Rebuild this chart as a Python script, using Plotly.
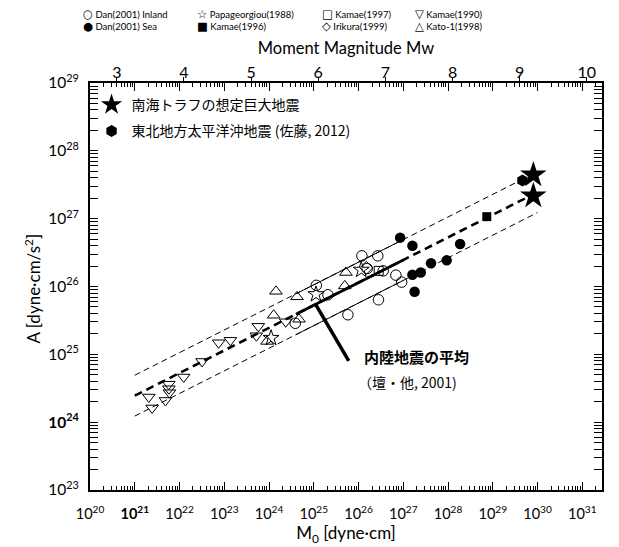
import numpy as np
import plotly.graph_objects as go

# ---------------- data ----------------
inland_M0 = [1.19e26, 2.69e26, 1.14e25, 2.07e25, 1.56e26, 3.56e26, 6.84e26, 9.20e26, 2.79e26, 5.79e25, 3.86e24]
inland_A = [2.83e26, 2.83e26, 1.04e26, 7.55e25, 1.84e26, 1.70e26, 1.47e26, 1.16e26, 6.37e25, 3.83e25, 2.87e25]

sea_M0 = [8.51e26, 1.60e27, 1.86e28, 9.33e27, 4.17e27, 2.45e27, 1.60e27, 1.79e27]
sea_A = [5.25e26, 3.98e26, 4.22e26, 2.43e26, 2.20e26, 1.61e26, 1.49e26, 8.36e25]

kato_M0 = [5.24e25, 4.92e25, 4.22e24, 1.43e24, 1.27e24, 4.68e24, 9.02e23]
kato_A = [1.61e26, 1.02e26, 7.05e25, 8.49e25, 3.77e25, 3.29e25, 1.55e25]

kamae1990_M0 = [5.77e23, 5.21e23, 7.50e22, 1.37e23, 2.37e24, 3.19e22, 1.24e22, 5.74e21, 5.79e21, 5.96e21, 2.06e21, 4.84e21, 2.44e21]
kamae1990_A = [2.59e25, 1.88e25, 1.48e25, 1.61e25, 3.02e25, 7.85e24, 4.63e24, 3.63e24, 3.11e24, 2.72e24, 2.35e24, 2.09e24, 1.62e24]

papa_M0 = [1.15e26, 1.12e25, 1.11e24]
papa_A = [1.76e26, 7.67e25, 1.74e25]

irikura_M0 = [1.49e26]
irikura_A = [1.88e26]

kamae1997_M0 = [2.82e26]
kamae1997_A = [1.70e26]

kamae1996_M0 = [7.35e28]
kamae1996_A = [1.07e27]

nankai_M0 = [8.05e29, 8.05e29]
nankai_A = [4.42e27, 2.17e27]

tohoku_M0 = [4.60e29]
tohoku_A = [3.64e27]

# Dan et al. (2001) relation, read as line end points
mean_line_M0 = [1e21, 1e30]
mean_line_A = [2.46e24, 2.46e27]
upper_line_A = [4.92e24, 4.92e27]
lower_line_A = [1.23e24, 1.23e27]
inland_seg_M0 = [4e24, 1e27]
inland_seg_mean_A = [3.90e25, 2.46e26]
inland_seg_upper_A = [7.80e25, 4.92e26]
inland_seg_lower_A = [1.95e25, 1.23e26]

callout_M0 = 1.1e25
callout_A = 5.47e25

x_tick_exp = list(range(20, 32))
y_tick_exp = list(range(23, 30))
mw_ticks = [3, 4, 5, 6, 7, 8, 9, 10]

x_log_range = [20, 31.44]
y_log_range = [23, 29]

# ---------------- geometry (the page adds an 8px body margin) ----------------
OFF = 8
W, H = 619 - OFF, 547 - OFF
PL, PR, PT, PB = 89.5, 602, 83, 490          # plot box in screenshot pixels
def px(xs):
    return (xs - PL) / (PR - PL)
def py(ys):
    return (PB - ys) / (PB - PT)

# ---------------- figure ----------------
fig = go.Figure()

line_style_thin_dash = dict(color="black", width=1, dash="6px,4px")
line_style_bold_dash = dict(color="black", width=2.6, dash="8px,5px")

fig.add_trace(go.Scatter(x=mean_line_M0, y=upper_line_A, mode="lines", line=line_style_thin_dash,
                         showlegend=False, hoverinfo="skip"))
fig.add_trace(go.Scatter(x=mean_line_M0, y=lower_line_A, mode="lines", line=line_style_thin_dash,
                         showlegend=False, hoverinfo="skip"))
fig.add_trace(go.Scatter(x=mean_line_M0, y=mean_line_A, mode="lines", line=line_style_bold_dash,
                         showlegend=False, hoverinfo="skip"))
fig.add_trace(go.Scatter(x=inland_seg_M0, y=inland_seg_upper_A, mode="lines", line=dict(color="black", width=1),
                         showlegend=False, hoverinfo="skip"))
fig.add_trace(go.Scatter(x=inland_seg_M0, y=inland_seg_lower_A, mode="lines", line=dict(color="black", width=1),
                         showlegend=False, hoverinfo="skip"))
fig.add_trace(go.Scatter(x=inland_seg_M0, y=inland_seg_mean_A, mode="lines", line=dict(color="black", width=2.6),
                         showlegend=False, hoverinfo="skip"))

def pts(x, y, symbol, size, name, lw=1):
    fig.add_trace(go.Scatter(x=x, y=y, mode="markers", name=name, showlegend=False,
                             marker=dict(symbol=symbol, size=size, color="black",
                                         line=dict(color="black", width=lw))))

pts(kamae1990_M0, kamae1990_A, "triangle-down-open", 11, "Kamae(1990)")
pts(kato_M0, kato_A, "triangle-up-open", 11, "Kato-1(1998)")
pts(papa_M0, papa_A, "star-open", 12, "Papageorgiou(1988)")
pts(inland_M0, inland_A, "circle-open", 10.5, "Dan(2001) Inland")
pts(irikura_M0, irikura_A, "diamond-open", 10, "Irikura(1999)")
pts(kamae1997_M0, kamae1997_A, "square-open", 9, "Kamae(1997)")
pts(sea_M0, sea_A, "circle", 10.5, "Dan(2001) Sea", 0)
pts(kamae1996_M0, kamae1996_A, "square", 9, "Kamae(1996)", 0)

fig.add_trace(go.Scatter(x=tohoku_M0, y=tohoku_A, mode="markers", name="東北地方太平洋沖地震 (佐藤, 2012)",
                         legendgroup="b", legendrank=2,
                         marker=dict(symbol="hexagon", size=12, color="black", line=dict(width=0))))
fig.add_trace(go.Scatter(x=nankai_M0, y=nankai_A, mode="markers", name="南海トラフの想定巨大地震",
                         legendgroup="a", legendrank=1,
                         marker=dict(symbol="star", size=20, color="black", line=dict(width=0))))

# invisible trace so that the Mw (top) axis is drawn
fig.add_trace(go.Scatter(x=[(np.log10(m) - 16.1) / 1.5 for m in tohoku_M0], y=tohoku_A,
                         xaxis="x2", mode="markers", marker=dict(opacity=0), showlegend=False, hoverinfo="skip"))

FONT = "Lato, DejaVu Sans"

def sup(e, bold=False):
    s = f"10<sup>{e}</sup>"
    return f"<b>{s}</b>" if bold else s

fig.update_layout(
    width=W, height=H,
    margin=dict(l=PL - OFF, r=W - (PR - OFF), t=PT - OFF, b=H - (PB - OFF), autoexpand=False),
    paper_bgcolor="white", plot_bgcolor="white",
    font=dict(family=FONT, color="black"),
    xaxis=dict(
        type="log", range=x_log_range,
        tickmode="array", tickvals=[10.0 ** e for e in x_tick_exp],
        ticktext=[sup(e, e == 21) for e in x_tick_exp],
        ticks="inside", ticklen=8, tickwidth=1, tickcolor="black",
        minor=dict(ticks="inside", ticklen=4, tickcolor="black", dtick="D1", showgrid=False),
        showline=True, linecolor="black", linewidth=2, mirror="allticks",
        showgrid=False, zeroline=False, tickfont=dict(family=FONT, size=14.5), ticklabelstandoff=10,
        title=dict(text="M<sub>0</sub> [dyne·cm]", font=dict(family=FONT, size=17), standoff=6),
    ),
    xaxis2=dict(
        overlaying="x", side="top", anchor="y", range=[(x_log_range[0] - 16.1) / 1.5, (x_log_range[1] - 16.1) / 1.5],
        tickmode="array", tickvals=mw_ticks, ticktext=[str(v) for v in mw_ticks],
        ticks="outside", ticklen=5, tickwidth=1, tickcolor="black", ticklabelstandoff=-7,
        showline=False, showgrid=False, zeroline=False, tickfont=dict(family=FONT, size=16),
        title=dict(text="Moment Magnitude Mw", font=dict(family=FONT, size=16.5), standoff=2),
    ),
    yaxis=dict(
        type="log", range=y_log_range,
        tickmode="array", tickvals=[10.0 ** e for e in y_tick_exp],
        ticktext=[sup(e, e == 24) for e in y_tick_exp],
        ticks="inside", ticklen=8, tickwidth=1, tickcolor="black",
        minor=dict(ticks="inside", ticklen=4, tickcolor="black", dtick="D1", showgrid=False),
        showline=True, linecolor="black", linewidth=2, mirror="allticks",
        showgrid=False, zeroline=False, tickfont=dict(family=FONT, size=15.5), ticklabelstandoff=6,
    ),
    legend=dict(x=0.003, y=0.985, xanchor="left", yanchor="top", bgcolor="rgba(0,0,0,0)",
                font=dict(family="Noto Sans CJK JP", size=14, color="black"),
                tracegroupgap=5, itemwidth=30),
)

# y-axis title
fig.add_annotation(x=px(31), y=py(289), xref="paper", yref="paper", xanchor="center", yanchor="middle",
                   showarrow=False, textangle=-90, text="A [dyne·cm/s<sup>2</sup>]",
                   font=dict(family=FONT, size=17, color="black"))

# callout
fig.add_annotation(x=np.log10(callout_M0), y=np.log10(callout_A), xref="x", yref="y", text="",
                   showarrow=True, arrowhead=0, arrowwidth=3.5, arrowcolor="black",
                   ax=34, ay=58, axref="pixel", ayref="pixel")
fig.add_annotation(x=px(362), y=py(356), xref="paper", yref="paper", xanchor="left",
                   yanchor="middle", showarrow=False, text="<b>内陸地震の平均</b>",
                   font=dict(family="Noto Sans CJK JP", size=15, color="black"))
fig.add_annotation(x=px(356), y=py(382), xref="paper", yref="paper", xanchor="left",
                   yanchor="middle", showarrow=False, text="（壇・他, 2001)",
                   font=dict(family="Noto Sans CJK JP", size=14, color="black"))

# top legend (two rows, four columns); one annotation per column
legend_cols = [80, 195, 320, 413]
legend_col_entries = [
    [("○", "Dan(2001) Inland"), ("●", "Dan(2001) Sea")],
    [("☆", "Papageorgiou(1988)"), ("■", "Kamae(1996)")],
    [("□", "Kamae(1997)"), ("◇", "Irikura(1999)")],
    [("▽", "Kamae(1990)"), ("△", "Kato-1(1998)")],
]
for c, entries in enumerate(legend_col_entries):
    lines = [f"<span style='font-family:DejaVu Sans;font-size:11.5px'>{g}</span> {t}" for g, t in entries]
    fig.add_annotation(
        x=px(legend_cols[c]), y=py(20), xref="paper", yref="paper",
        xanchor="left", yanchor="middle", align="left", showarrow=False,
        text="<br>".join(lines),
        font=dict(family=FONT, size=9.5, color="black"))

fig.write_html("out.html")
